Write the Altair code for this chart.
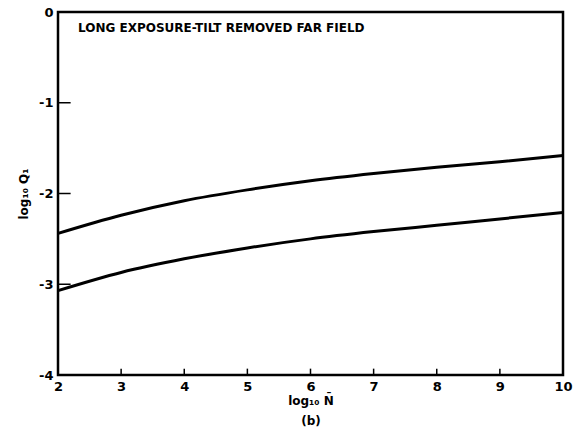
import altair as alt
import pandas as pd

x_vals = [2, 3, 4, 5, 6, 7, 8, 9, 10]
upper = [-2.44, -2.24, -2.08, -1.96, -1.86, -1.78, -1.71, -1.65, -1.58]
lower = [-3.07, -2.87, -2.72, -2.60, -2.50, -2.42, -2.35, -2.28, -2.21]

y_ticks = [-1, -2, -3]
x_ticks = [3, 4, 5, 6, 7, 8, 9]

rows = []
for x, u, l in zip(x_vals, upper, lower):
    rows.append({"x": x, "y": u, "curve": "upper"})
    rows.append({"x": x, "y": l, "curve": "lower"})
df = pd.DataFrame(rows)

FONT = "DejaVu Sans"

xscale = alt.Scale(domain=[2, 10], nice=False, zero=False)
yscale = alt.Scale(domain=[-4, 0], nice=False, zero=False)

xaxis = alt.Axis(values=list(range(2, 11)), ticks=False, domain=False, grid=False, format="d",
                 labelFont=FONT, labelFontWeight="bold", labelFontSize=13, labelColor="black",
                 labelPadding=5, labelFlush=False,
                 title=["log\u2081\u2080 N\u0304", "(b)"], titleFont=FONT, titleFontWeight="bold",
                 titleFontSize=12, titleColor="black", titlePadding=2, titleLineHeight=20)
yaxis = alt.Axis(values=[0, -1, -2, -3, -4], ticks=False, domain=False, grid=False,
                 labelFont=FONT, labelFontWeight="bold", labelFontSize=13, labelColor="black",
                 labelPadding=5, labelFlush=False,
                 labelExpr="datum.value < 0 ? '-' + abs(datum.value) : '0'",
                 title="log\u2081\u2080 Q\u2081", titleFont=FONT, titleFontWeight="bold",
                 titleFontSize=12, titleColor="black", titlePadding=8)

lines = alt.Chart(df).mark_line(color="black", strokeWidth=3, interpolate="monotone").encode(
    x=alt.X("x:Q", scale=xscale, axis=xaxis),
    y=alt.Y("y:Q", scale=yscale, axis=yaxis),
    detail="curve:N",
)

yt = pd.DataFrame({"y": y_ticks, "x0": [2] * len(y_ticks), "x1": [2.2] * len(y_ticks)})
ytick_rules = alt.Chart(yt).mark_rule(color="black", strokeWidth=1.5).encode(
    x=alt.X("x0:Q", scale=xscale), x2="x1:Q", y=alt.Y("y:Q", scale=yscale)
)

xt = pd.DataFrame({"x": x_ticks, "y0": [-4] * len(x_ticks), "y1": [-3.93] * len(x_ticks)})
xtick_rules = alt.Chart(xt).mark_rule(color="black", strokeWidth=1.5).encode(
    x=alt.X("x:Q", scale=xscale), y=alt.Y("y0:Q", scale=yscale), y2="y1:Q"
)

label = alt.Chart(pd.DataFrame({"t": ["LONG EXPOSURE-TILT REMOVED FAR FIELD"]})).mark_text(
    font=FONT, fontWeight="bold", fontSize=12, align="left", baseline="middle", color="black"
).encode(text="t:N", x=alt.value(20), y=alt.value(16))

chart = alt.layer(lines, ytick_rules, xtick_rules, label).properties(
    width=505, height=363,
    padding={"left": 58, "top": 12, "right": 11, "bottom": 72},
    autosize=alt.AutoSizeParams(type="none"),
    background="white",
).configure_view(stroke="black", strokeWidth=2.5)

chart.save("out.html", embed_options={"renderer": "svg", "actions": False})
